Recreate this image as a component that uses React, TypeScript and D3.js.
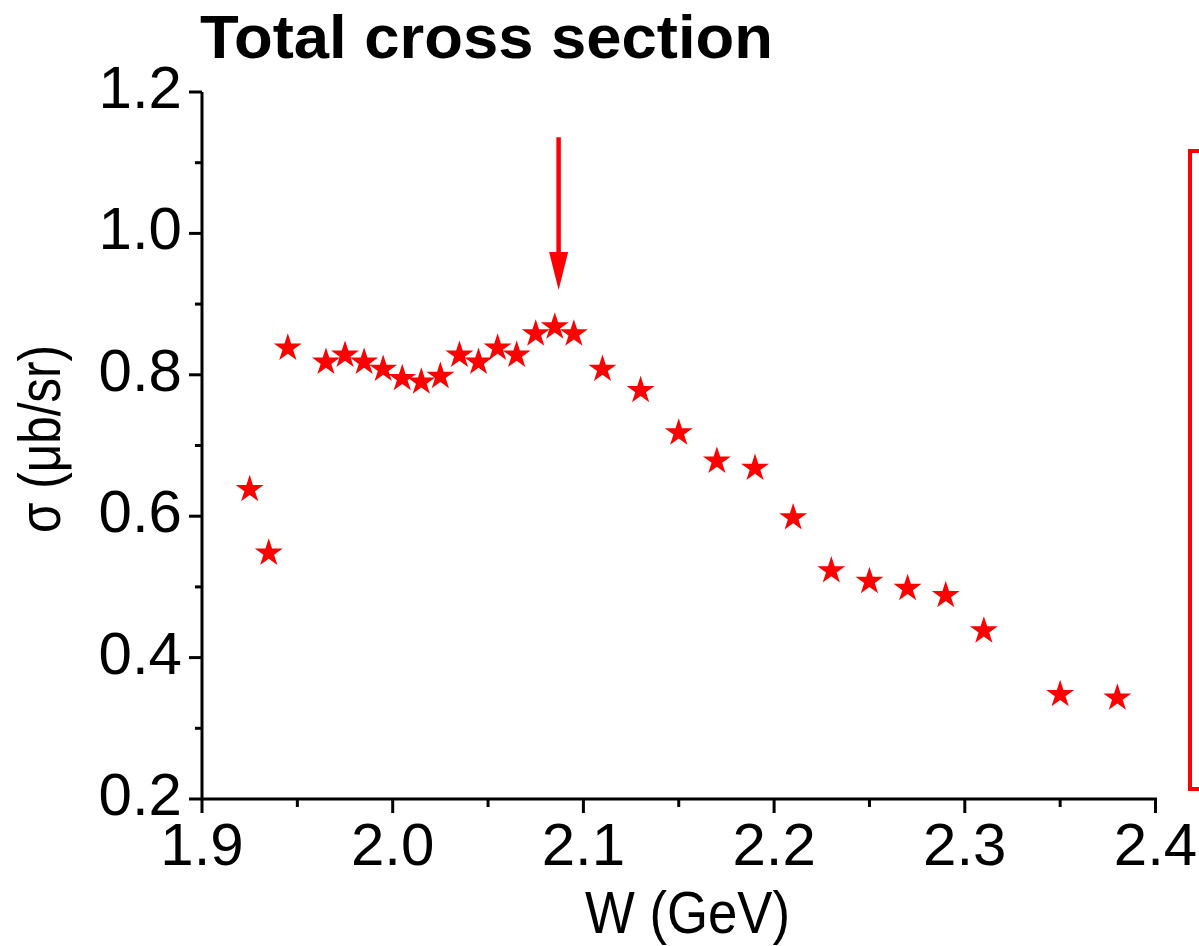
import React from "react";
import * as d3 from "d3";

const W_GEV = [1.925, 1.935, 1.945, 1.965, 1.975, 1.985, 1.995, 2.005, 2.015, 2.025, 2.035, 2.045, 2.055, 2.065, 2.075, 2.085, 2.095, 2.11, 2.13, 2.15, 2.17, 2.19, 2.21, 2.23, 2.25, 2.27, 2.29, 2.31, 2.35, 2.38];
const SIGMA = [0.64, 0.55, 0.84, 0.82, 0.83, 0.82, 0.81, 0.797, 0.792, 0.80, 0.83, 0.82, 0.84, 0.83, 0.86, 0.87, 0.86, 0.81, 0.78, 0.72, 0.68, 0.67, 0.60, 0.525, 0.51, 0.50, 0.49, 0.44, 0.35, 0.345];

const X_TICKS = [1.9, 2.0, 2.1, 2.2, 2.3, 2.4];
const X_MINOR = [1.95, 2.05, 2.15, 2.25, 2.35];
const Y_TICKS = [0.2, 0.4, 0.6, 0.8, 1.0, 1.2];
const Y_MINOR = [0.3, 0.5, 0.7, 0.9, 1.1];

const TITLE = "Total cross section";
const X_LABEL = "W (GeV)";
const Y_LABEL = "σ (μb/sr)";

// arrow annotation (data coords)
const ARROW_W = 2.087;
const ARROW_TOP = 1.136;
const ARROW_TIP = 0.92;

const RED = "#ff0000";

export default function App() {
  const x = d3.scaleLinear().domain([1.9, 2.4]).range([202, 1155.5]);
  const y = d3.scaleLinear().domain([0.2, 1.2]).range([799, 92]);
  const star = d3.symbol().type(d3.symbolStar).size(242)() as string;
  const font = "Arial, 'Liberation Sans', Helvetica, sans-serif";

  const ax = x(ARROW_W);
  const aTop = y(ARROW_TOP);
  const aTip = y(ARROW_TIP);
  const headLen = 38;
  const headHalf = 9.5;

  return (
    <svg
      width={1199}
      height={946}
      style={{ position: "absolute", left: 0, top: 0, background: "#fff" }}
      fontFamily={font}
    >
      <rect x={0} y={0} width={1199} height={946} fill="#fff" />
      <text x={200} y={58} fontSize={62} fontWeight="bold" textLength={573} lengthAdjust="spacingAndGlyphs">
        {TITLE}
      </text>

      {/* axes */}
      <line x1={x(1.9)} x2={x(2.4) + 1.5} y1={y(0.2)} y2={y(0.2)} stroke="#000" strokeWidth={3} />
      <line x1={x(1.9)} x2={x(1.9)} y1={y(1.2)} y2={y(0.2) + 1.5} stroke="#000" strokeWidth={3} />

      {X_TICKS.map((t) => (
        <g key={"xt" + t}>
          <line x1={x(t)} x2={x(t)} y1={y(0.2)} y2={y(0.2) + 14} stroke="#000" strokeWidth={3} />
          <text x={x(t)} y={865} fontSize={60} textAnchor="middle">
            {t.toFixed(1)}
          </text>
        </g>
      ))}
      {X_MINOR.map((t) => (
        <line key={"xm" + t} x1={x(t)} x2={x(t)} y1={y(0.2)} y2={y(0.2) + 8} stroke="#000" strokeWidth={3} />
      ))}
      {Y_TICKS.map((t) => (
        <g key={"yt" + t}>
          <line x1={x(1.9) - 13} x2={x(1.9)} y1={y(t)} y2={y(t)} stroke="#000" strokeWidth={3} />
          <text x={182} y={y(t) + 16} fontSize={60} textAnchor="end">
            {t.toFixed(1)}
          </text>
        </g>
      ))}
      {Y_MINOR.map((t) => (
        <line key={"ym" + t} x1={x(1.9) - 7} x2={x(1.9)} y1={y(t)} y2={y(t)} stroke="#000" strokeWidth={3} />
      ))}

      {/* axis labels */}
      <text x={687.5} y={933} fontSize={60} textAnchor="middle" textLength={205} lengthAdjust="spacingAndGlyphs">
        {X_LABEL}
      </text>
      <text
        transform={`translate(59.5,439) rotate(-90)`}
        fontSize={60}
        textAnchor="middle"
        textLength={188}
        lengthAdjust="spacingAndGlyphs"
      >
        {Y_LABEL}
      </text>

      {/* data */}
      {W_GEV.map((w, i) => (
        <path key={"p" + i} d={star} transform={`translate(${x(w)},${y(SIGMA[i]) + 1.5})`} fill={RED} />
      ))}

      {/* arrow */}
      <line x1={ax} x2={ax} y1={aTop} y2={aTip - headLen + 2} stroke={RED} strokeWidth={4.5} />
      <path
        d={`M${ax - headHalf},${aTip - headLen} L${ax + headHalf},${aTip - headLen} L${ax},${aTip} Z`}
        fill={RED}
      />

      {/* right bracket */}
      <path d="M1205,151 L1190,151 L1190,789 L1205,789" fill="none" stroke={RED} strokeWidth={4} />
    </svg>
  );
}
